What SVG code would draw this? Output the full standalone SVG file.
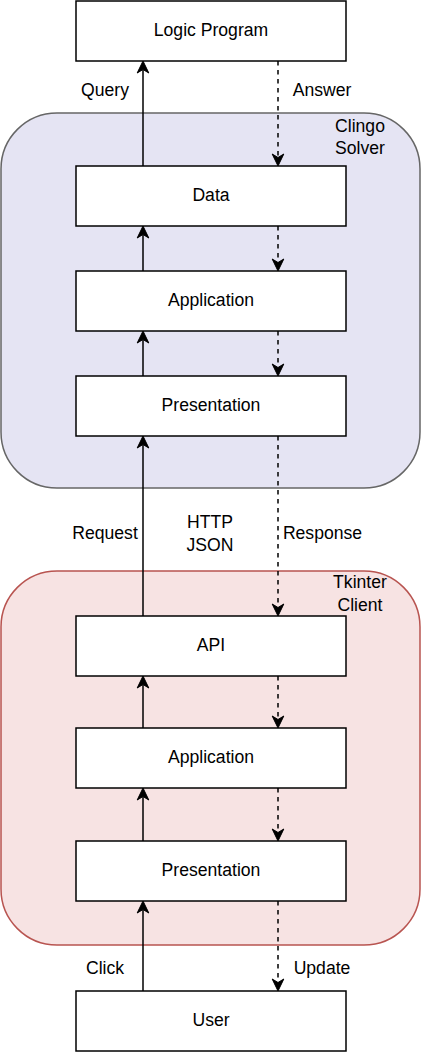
<svg xmlns="http://www.w3.org/2000/svg" width="422" height="1053" viewBox="0 0 422 1053">
<style>
.box{fill:#fff;stroke:#000;stroke-width:1.5}
.t{font-family:"Liberation Sans",Arial,sans-serif;font-size:17.6px;fill:#000;text-anchor:middle}
.s{stroke:#000;stroke-width:1.5;fill:none;marker-end:url(#ah)}
.d{stroke:#000;stroke-width:1.5;fill:none;stroke-dasharray:4.5 4.5;marker-end:url(#ah)}
</style>
<defs>
<marker id="ah" markerUnits="userSpaceOnUse" orient="auto" refX="0" refY="0" markerWidth="20" markerHeight="20" overflow="visible">
<path d="M8.5,0 L-3.5,-5.8 L0,0 L-3.5,5.8 Z" fill="#000" stroke="#000" stroke-width="1"/>
</marker>
</defs>
<g id="clingo">
<rect x="1" y="113" width="419" height="375" rx="56" ry="56" fill="#e5e4f3" stroke="#666" stroke-width="1.5"/>
<text class="t" x="360" y="131.5">Clingo</text>
<text class="t" x="360" y="153.5">Solver</text>
</g>
<g id="tkinter">
<rect x="1" y="571" width="419" height="374" rx="56" ry="56" fill="#f7e3e3" stroke="#b85450" stroke-width="1.5"/>
<text class="t" x="360" y="588">Tkinter</text>
<text class="t" x="360" y="610.5">Client</text>
</g>
<g id="logic"><rect class="box" x="76" y="1" width="270" height="60"/><text class="t" x="211" y="36.4">Logic Program</text></g>
<g id="data"><rect class="box" x="76" y="166" width="270" height="60"/><text class="t" x="211" y="201.4">Data</text></g>
<g id="app1"><rect class="box" x="76" y="271" width="270" height="60"/><text class="t" x="211" y="306.4">Application</text></g>
<g id="pres1"><rect class="box" x="76" y="376" width="270" height="60"/><text class="t" x="211" y="411.4">Presentation</text></g>
<g id="api"><rect class="box" x="76" y="616" width="270" height="60"/><text class="t" x="211" y="651.4">API</text></g>
<g id="app2"><rect class="box" x="76" y="728" width="270" height="60"/><text class="t" x="211" y="763.4">Application</text></g>
<g id="pres2"><rect class="box" x="76" y="841" width="270" height="60"/><text class="t" x="211" y="876.4">Presentation</text></g>
<g id="user"><rect class="box" x="76" y="991" width="270" height="60"/><text class="t" x="211" y="1026.4">User</text></g>
<g id="connectors">
<path class="s" d="M143,166 V69.5"/>
<path class="d" d="M278,61 V157.5"/>
<path class="s" d="M143,271 V234.5"/>
<path class="d" d="M278,226 V262.5"/>
<path class="s" d="M143,376 V339.5"/>
<path class="d" d="M278,331 V367.5"/>
<path class="s" d="M143,616 V444.5"/>
<path class="d" d="M278,436 V607.5"/>
<path class="s" d="M143,728 V684.5"/>
<path class="d" d="M278,676 V719.5"/>
<path class="s" d="M143,841 V796.5"/>
<path class="d" d="M278,788 V832.5"/>
<path class="s" d="M143,991 V909.5"/>
<path class="d" d="M278,901 V982.5"/>
</g>
<g id="labels">
<text class="t" x="105" y="96">Query</text>
<text class="t" x="322" y="96">Answer</text>
<text class="t" x="105" y="539">Request</text>
<text class="t" x="210" y="528.3">HTTP</text>
<text class="t" x="210" y="550.7">JSON</text>
<text class="t" x="322.5" y="539">Response</text>
<text class="t" x="105" y="974">Click</text>
<text class="t" x="322" y="974">Update</text>
</g>
</svg>
